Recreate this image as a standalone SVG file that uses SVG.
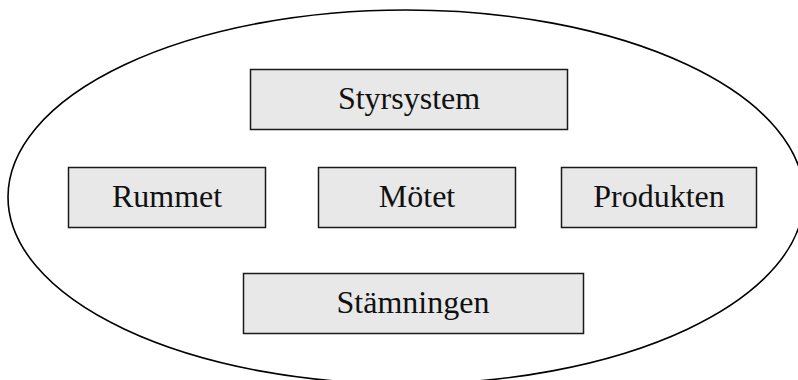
<svg xmlns="http://www.w3.org/2000/svg" width="798" height="380" viewBox="0 0 798 380">
<style>
.box{fill:#e8e8e8;stroke:#1a1a1a;stroke-width:1.5}
.lbl{font-family:"Liberation Serif","Times New Roman",serif;font-size:32px;fill:#111;text-anchor:middle}
.outline{fill:none;stroke:#000;stroke-width:1.6}
</style>
<rect width="798" height="380" fill="#fff"/>
<g id="boundary"><ellipse class="outline" cx="406" cy="197" rx="398" ry="187"/></g>
<g id="node-styrsystem"><rect class="box" x="250.5" y="69.5" width="317" height="60"/><text class="lbl" x="409" y="109">Styrsystem</text></g>
<g id="node-rummet"><rect class="box" x="68.5" y="167.5" width="197" height="60"/><text class="lbl" x="167" y="206.5">Rummet</text></g>
<g id="node-motet"><rect class="box" x="318.5" y="167.5" width="197" height="60"/><text class="lbl" x="417" y="206.5">Mötet</text></g>
<g id="node-produkten"><rect class="box" x="561.5" y="167.5" width="195" height="60"/><text class="lbl" x="659" y="206.5">Produkten</text></g>
<g id="node-stamningen"><rect class="box" x="243.5" y="273.5" width="340" height="60"/><text class="lbl" x="413" y="312.5">Stämningen</text></g>
<g id="connectors"></g>
</svg>
